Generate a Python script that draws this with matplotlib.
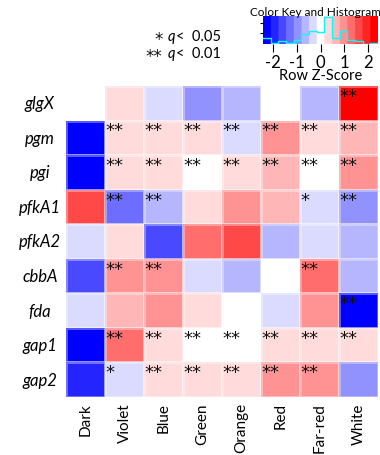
import numpy as np
import matplotlib
matplotlib.use("Agg")
import matplotlib.pyplot as plt
from matplotlib.colors import ListedColormap, BoundaryNorm

plt.rcParams['font.family'] = ['Lato', 'DejaVu Sans']

genes = ["glgX", "pgm", "pgi", "pfkA1", "pfkA2", "cbbA", "fda", "gap1", "gap2"]
conditions = ["Dark", "Violet", "Blue", "Green", "Orange", "Red", "Far-red", "White"]

# Row z-scores (estimated from colour bins)
zscores = np.array([
    [0.0,  0.3, -0.3, -1.0, -0.65, 0.0, -0.65, 2.2],   # glgX
    [-2.2, 0.3,  0.3,  0.3, -0.3,  1.0,  0.3,  0.65],  # pgm
    [-2.2, 0.3,  0.3,  0.0,  0.3,  0.65, 0.0,  1.0],   # pgi
    [1.6, -1.3, -0.65, 0.3,  1.0,  0.65, -0.3, -1.0],  # pfkA1
    [-0.3, 0.3, -1.6,  1.3,  1.6, -0.65, -0.3, -0.65], # pfkA2
    [-1.6, 1.0,  1.0, -0.3, -0.65, 0.0,  1.3, -0.65],  # cbbA
    [-0.3, 0.65, 1.0,  0.3,  0.0, -0.3,  1.0, -2.2],   # fda
    [-2.2, 1.3,  0.3,  0.0,  0.0,  0.3,  0.3,  0.3],   # gap1
    [-1.9, -0.3, 0.3,  0.3,  0.3,  1.0,  1.0, -1.0],   # gap2
])

# significance: 0 none, 1 = q<0.05, 2 = q<0.01
signif = np.array([
    [0, 0, 0, 0, 0, 0, 0, 2],
    [0, 2, 2, 2, 2, 2, 2, 2],
    [0, 2, 2, 2, 2, 2, 2, 2],
    [0, 2, 2, 0, 0, 0, 1, 2],
    [0, 0, 0, 0, 0, 0, 0, 0],
    [0, 2, 2, 0, 0, 0, 2, 0],
    [0, 0, 0, 0, 0, 0, 0, 2],
    [0, 2, 2, 2, 2, 2, 2, 2],
    [0, 1, 2, 2, 2, 2, 2, 0],
])

key_ticks = [-2, -1, 0, 1, 2]
legend_marks = ["*", "**"]
legend_thresholds = ["<  0.05", "<  0.01"]

# 15-step blue-white-red palette
cols = []
for k in range(-7, 8):
    if k < 0:
        v = 1 + k / 7
        cols.append((v, v, 1.0))
    else:
        v = 1 - k / 7
        cols.append((1.0, v, v))
cmap = ListedColormap(cols)
bounds = np.linspace(-2.4, 2.4, 16)
norm = BoundaryNorm(bounds, cmap.N)

W, H = 380, 456
fig = plt.figure(figsize=(W / 100, H / 100), dpi=100)
renderer = fig.canvas.get_renderer()

def fx(px):
    return px / W

def fy(py):
    return 1 - py / H

# main heatmap
ax = fig.add_axes([fx(66), fy(398), fx(378) - fx(66), fy(87) - fy(398)])
nr, nc = zscores.shape
ax.pcolormesh(np.arange(nc + 1), np.arange(nr + 1), zscores, cmap=cmap, norm=norm,
              edgecolors=(1, 1, 1, 0.35), linewidth=0.8)
ax.set_xlim(0, nc)
ax.set_ylim(nr, 0)
ax.axis('off')

for i, g in enumerate(genes):
    ax.text(-0.67, i + 0.5, g, ha='center', va='center', fontsize=12,
            style='italic', clip_on=False)
for j, c in enumerate(conditions):
    ax.text(j + 0.5, nr + 0.15, c, ha='center', va='top', rotation=90,
            fontsize=11, clip_on=False)

for i in range(nr):
    for j in range(nc):
        s = signif[i, j]
        if s:
            ax.text(j + 0.0, i + 0.43, "*" * s, ha='left', va='baseline',
                    fontsize=13, family='DejaVu Sans', color='#111111')

# significance legend, built from pieces (mark, italic q, threshold)
for k, (mark, thr) in enumerate(zip(legend_marks, legend_thresholds)):
    yp = 37 + 17 * k
    y = fy(yp)
    t3 = fig.text(fx(221), y, thr, ha='right', va='center', fontsize=10.5)
    x3 = t3.get_window_extent(renderer).x0
    t2 = fig.text((x3 - 1) / W, y, "q", ha='right', va='center', fontsize=10.5,
                  style='italic')
    x2 = t2.get_window_extent(renderer).x0
    fig.text((x2 - 5) / W, fy(yp + 3), mark, ha='right', va='center', fontsize=12,
             family='DejaVu Sans', color='#111111')

# colour key
kx = fig.add_axes([fx(263), fy(45), fx(378) - fx(263), fy(17) - fy(45)])
grad = np.linspace(-2.4, 2.4, 400)[None, :]
kx.imshow(grad, cmap=cmap, norm=norm, aspect='auto', extent=[-2.4, 2.4, 0, 1])
counts, _ = np.histogram(zscores.ravel(), bins=bounds)
hy = counts / counts.max() * 0.95
kx.step(np.r_[bounds[:-1], bounds[-1]], np.r_[hy, hy[-1]], where='post',
        color='cyan', lw=1.0)
kx.set_xlim(-2.4, 2.4)
kx.set_ylim(0, 1)
for sp in kx.spines.values():
    sp.set_visible(False)
kx.set_xticks(key_ticks)
kx.set_xticklabels([str(t) for t in key_ticks])
kx.tick_params(axis='x', length=6, width=0.8, labelsize=12, pad=1)
kx.set_yticks([0.4, 0.75])
kx.set_yticklabels([])
kx.tick_params(axis='y', length=2, width=0.8)
kx.set_xlabel("Row Z-Score", fontsize=10.5, labelpad=-1)
fig.text(fx(316), fy(12), "Color Key and Histogram", ha='center', va='center', fontsize=8.5)

fig.savefig("out.png", dpi=100)
